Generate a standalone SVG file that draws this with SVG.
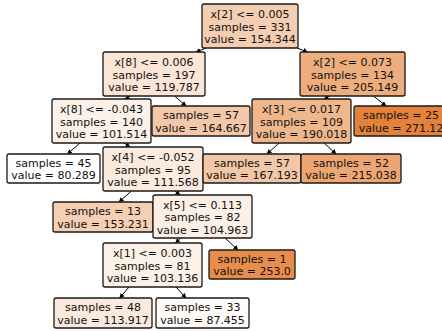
<svg xmlns="http://www.w3.org/2000/svg" width="442" height="331" viewBox="0 0 442 331">
<style>
  .box { stroke: #1a1a1a; stroke-width: 1.3; }
  text { font-family: "DejaVu Sans", sans-serif; font-size: 11px; fill: #111; text-anchor: middle; }
  .edge { stroke: #000; stroke-width: 1; fill: none; marker-end: url(#ah); }
</style>
<defs>
  <marker id="ah" viewBox="0 0 10 10" refX="9" refY="5" markerWidth="5" markerHeight="5" orient="auto" markerUnits="userSpaceOnUse">
    <path d="M0,0 L10,5 L0,10 z" fill="#000"/>
  </marker>
</defs>
<rect width="442" height="331" fill="#fff"/>
<g id="edges">
  <line class="edge" x1="206" y1="48" x2="196" y2="52"/>
  <line class="edge" x1="297" y1="48" x2="307.5" y2="52"/>
  <line class="edge" x1="130.5" y1="96" x2="125" y2="99"/>
  <line class="edge" x1="174.6" y1="96" x2="186" y2="106"/>
  <line class="edge" x1="330" y1="96" x2="324" y2="99"/>
  <line class="edge" x1="373.5" y1="96" x2="386" y2="106"/>
  <line class="edge" x1="80" y1="143" x2="67.5" y2="154"/>
  <line class="edge" x1="124" y1="143" x2="130" y2="147"/>
  <line class="edge" x1="279" y1="143" x2="267" y2="154"/>
  <line class="edge" x1="324" y1="143" x2="336" y2="154"/>
  <line class="edge" x1="131.4" y1="191" x2="119" y2="202"/>
  <line class="edge" x1="175" y1="191" x2="180" y2="195"/>
  <line class="edge" x1="180.6" y1="238" x2="175.5" y2="243"/>
  <line class="edge" x1="225" y1="238" x2="238" y2="250"/>
  <line class="edge" x1="129" y1="287" x2="119.7" y2="298"/>
  <line class="edge" x1="176" y1="287" x2="186" y2="298"/>
</g>
<g id="n0">
  <rect class="box" x="202" y="4" width="96" height="44" rx="2" fill="#f5ceb2"/>
  <text x="250" y="18">x[2] &lt;= 0.005</text>
  <text x="250" y="30.5">samples = 331</text>
  <text x="250" y="43">value = 154.344</text>
</g>
<g id="n1">
  <rect class="box" x="103" y="52" width="102" height="44" rx="2" fill="#fae5d6"/>
  <text x="154" y="66">x[8] &lt;= 0.006</text>
  <text x="154" y="78.5">samples = 197</text>
  <text x="154" y="91">value = 119.787</text>
</g>
<g id="n2">
  <rect class="box" x="300" y="52" width="105" height="44" rx="2" fill="#eead7d"/>
  <text x="352.5" y="66">x[2] &lt;= 0.073</text>
  <text x="352.5" y="78.5">samples = 134</text>
  <text x="352.5" y="91">value = 205.149</text>
</g>
<g id="n3">
  <rect class="box" x="52" y="99" width="99" height="44" rx="2" fill="#fcf1e9"/>
  <text x="101.5" y="113">x[8] &lt;= -0.043</text>
  <text x="101.5" y="125.5">samples = 140</text>
  <text x="101.5" y="138">value = 101.514</text>
</g>
<g id="n4">
  <rect class="box" x="152" y="106" width="98" height="30" rx="2" fill="#f3c7a7"/>
  <text x="201" y="119">samples = 57</text>
  <text x="201" y="131.5">value = 164.667</text>
</g>
<g id="n5">
  <rect class="box" x="252" y="99" width="99" height="44" rx="2" fill="#f0b78d"/>
  <text x="301.5" y="113">x[3] &lt;= 0.017</text>
  <text x="301.5" y="125.5">samples = 109</text>
  <text x="301.5" y="138">value = 190.018</text>
</g>
<g id="n6">
  <rect class="box" x="354" y="106" width="94" height="30" rx="2" fill="#e58139"/>
  <text x="401" y="119">samples = 25</text>
  <text x="401" y="131.5">value = 271.12</text>
</g>
<g id="n7">
  <rect class="box" x="7" y="154" width="93" height="29" rx="2" fill="#ffffff"/>
  <text x="53.5" y="166.5">samples = 45</text>
  <text x="53.5" y="179">value = 80.289</text>
</g>
<g id="n8">
  <rect class="box" x="103" y="147" width="100" height="44" rx="2" fill="#fbeade"/>
  <text x="153" y="161">x[4] &lt;= -0.052</text>
  <text x="153" y="173.5">samples = 95</text>
  <text x="153" y="186">value = 111.568</text>
</g>
<g id="n9">
  <rect class="box" x="203" y="154" width="98" height="29" rx="2" fill="#f3c6a5"/>
  <text x="252" y="166.5">samples = 57</text>
  <text x="252" y="179">value = 167.193</text>
</g>
<g id="n10">
  <rect class="box" x="301" y="154" width="100" height="29" rx="2" fill="#eda673"/>
  <text x="351" y="166.5">samples = 52</text>
  <text x="351" y="179">value = 215.038</text>
</g>
<g id="n11">
  <rect class="box" x="53" y="202" width="100" height="30" rx="2" fill="#f5cfb3"/>
  <text x="103" y="215">samples = 13</text>
  <text x="103" y="227.5">value = 153.231</text>
</g>
<g id="n12">
  <rect class="box" x="153" y="195" width="99" height="43" rx="2" fill="#fcefe5"/>
  <text x="202.5" y="208.5">x[5] &lt;= 0.113</text>
  <text x="202.5" y="221">samples = 82</text>
  <text x="202.5" y="233.5">value = 104.963</text>
</g>
<g id="n13">
  <rect class="box" x="103" y="243" width="99" height="44" rx="2" fill="#fcf0e7"/>
  <text x="152.5" y="257">x[1] &lt;= 0.003</text>
  <text x="152.5" y="269.5">samples = 81</text>
  <text x="152.5" y="282">value = 103.136</text>
</g>
<g id="n14">
  <rect class="box" x="209" y="250" width="86" height="29" rx="2" fill="#e88d4c"/>
  <text x="252" y="262.5">samples = 1</text>
  <text x="252" y="275">value = 253.0</text>
</g>
<g id="n15">
  <rect class="box" x="54" y="298" width="98" height="30" rx="2" fill="#fae9dc"/>
  <text x="103" y="311">samples = 48</text>
  <text x="103" y="323.5">value = 113.917</text>
</g>
<g id="n16">
  <rect class="box" x="156" y="298" width="93" height="30" rx="2" fill="#fefaf8"/>
  <text x="202.5" y="311">samples = 33</text>
  <text x="202.5" y="323.5">value = 87.455</text>
</g>
</svg>
